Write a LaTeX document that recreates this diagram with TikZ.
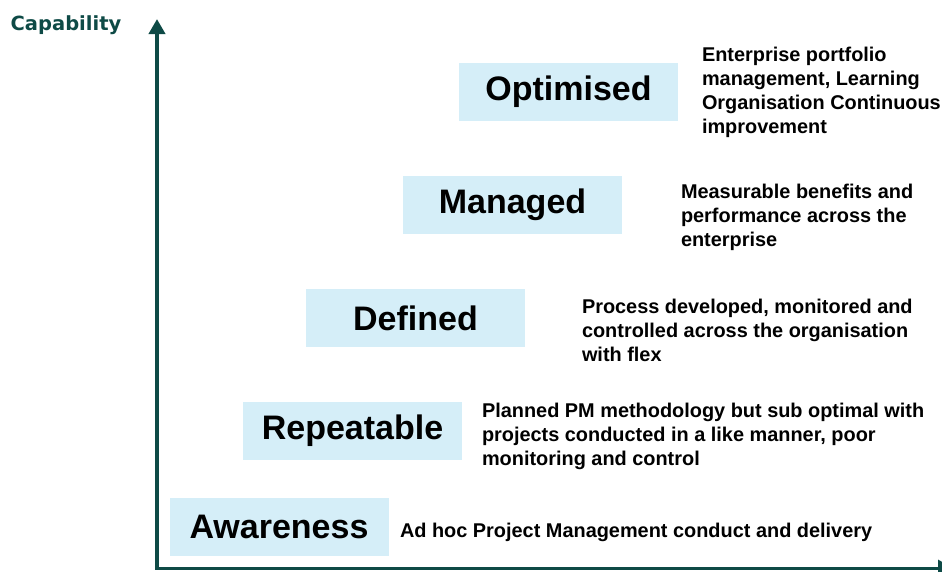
\documentclass[tikz,border=0pt]{standalone}
\usepackage{fontspec}
\setmainfont{Liberation Sans}
\newfontfamily\axisfont{DejaVu Sans}
\usetikzlibrary{arrows.meta}

\definecolor{axisteal}{HTML}{0E4A46}
\definecolor{levelblue}{HTML}{D5EEF8}

\begin{document}
\begin{tikzpicture}[x=1pt, y=-1pt]
\tikzset{ >={Triangle[length=15pt,width=16pt]}, inner sep=0pt, outer sep=0pt,
  level/.style={fill=levelblue, minimum width=219pt, minimum height=58pt,
    font=\fontsize{34}{40}\selectfont\bfseries},
  desc/.style={anchor=west, align=left, font=\fontsize{19.9}{24}\selectfont\bfseries},
}

\useasboundingbox (0,0) rectangle (942,571);

%\draw [lightgray, dashed](0,0) grid[step=50] (942,571);

% axes
\coordinate (O) at (157,568);
\coordinate (Ytip) at (157,19);
\coordinate (Xtip) at (953,568);

\draw [->, axisteal, line width=4pt] (O) -- (Ytip);
\draw [->, axisteal, line width=3pt] ([xshift=-2pt]O) -- (Xtip);

\node [text=axisteal, font=\axisfont\fontsize{19.5}{22}\selectfont\bfseries] (cap) at (66,25) {Capability};

% levels
\node [level] (aware) at (279,527)   {Awareness};
\node [level] (repeat) at (352.5,431) {Repeatable};
\node [level] (define) at (415.5,318)  {Defined};
\node [level] (manage) at (512.5,205) {Managed};
\node [level] (optim) at (568.5,92)  {Optimised};

% descriptions
\node [desc] (awareD) at (400,532) {Ad hoc Project Management conduct and delivery};
\node [desc] (repeatD) at (482,436) {Planned PM methodology but sub optimal with\\projects conducted in a like manner, poor\\monitoring and control};
\node [desc] (defineD) at (582,330.5) {Process developed, monitored and\\controlled across the organisation\\with flex};
\node [desc] (manageD) at (681,217) {Measurable benefits and\\performance across the\\enterprise};
\node [desc] (optimD) at (702,92) {Enterprise portfolio\\management, Learning\\Organisation Continuous\\improvement};

\end{tikzpicture}
\end{document}
